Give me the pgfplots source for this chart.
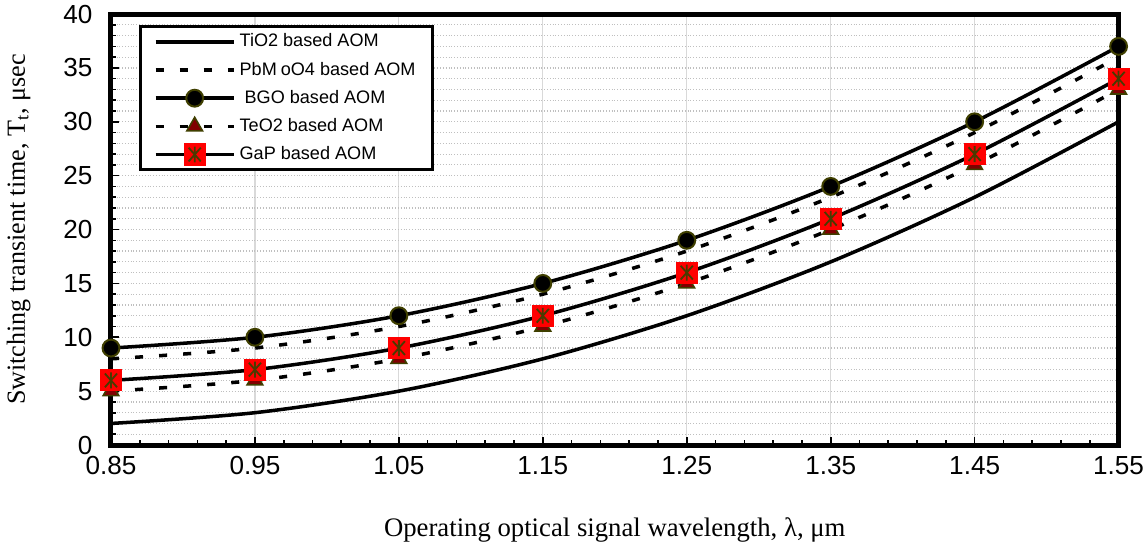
\documentclass[border=0pt]{standalone}
\usepackage{fontspec}
\setmainfont{Liberation Serif}
\newfontfamily\arialf{Liberation Sans}
\usepackage{pgfplots}
\pgfplotsset{compat=1.18}
\definecolor{olivedk}{HTML}{3F3F00}
\definecolor{tered}{HTML}{800000}
\definecolor{astc}{HTML}{4A3A00}

\pgfdeclareplotmark{sqast}{%
  \pgfpathrectangle{\pgfqpoint{-\pgfplotmarksize}{-\pgfplotmarksize}}{\pgfqpoint{2\pgfplotmarksize}{2\pgfplotmarksize}}%
  \pgfsetfillcolor{red}%
  \pgfusepathqfill
  \pgfsetstrokecolor{astc}%
  \pgfsetlinewidth{0.9pt}%
  \pgfpathmoveto{\pgfqpoint{0pt}{-0.72\pgfplotmarksize}}%
  \pgfpathlineto{\pgfqpoint{0pt}{0.72\pgfplotmarksize}}%
  \pgfpathmoveto{\pgfqpoint{-0.55\pgfplotmarksize}{-0.62\pgfplotmarksize}}%
  \pgfpathlineto{\pgfqpoint{0.55\pgfplotmarksize}{0.62\pgfplotmarksize}}%
  \pgfpathmoveto{\pgfqpoint{-0.55\pgfplotmarksize}{0.62\pgfplotmarksize}}%
  \pgfpathlineto{\pgfqpoint{0.55\pgfplotmarksize}{-0.62\pgfplotmarksize}}%
  \pgfusepathqstroke
}

\begin{document}
\begin{tikzpicture}
\begin{axis}[
  name=ax,
  scale only axis, width=501.5pt, height=214.5pt,
  xmin=0.85, xmax=1.55, ymin=0, ymax=40,
  xtick={0.85,0.95,1.05,1.15,1.25,1.35,1.45,1.55},
  ytick={0,5,10,15,20,25,30,35,40},
  minor y tick num=4, minor x tick num=4,
  xtick pos=bottom, ytick pos=left,
  xmajorgrids, ymajorgrids, yminorgrids,
  major x grid style={black!15, line width=0.6pt},
  major y grid style={black!25, densely dotted, line width=0.6pt},
  minor y grid style={black!25, densely dotted, line width=0.6pt},
  tick align=inside, major tick length=4pt, minor tick length=2.5pt,
  every tick/.style={black, line width=0.8pt},
  axis line style={line width=2.5pt},
  tick label style={font=\arialf\fontsize{13}{15}\selectfont, inner sep=0pt},
  /pgf/number format/assume math mode=true,
  xticklabel style={yshift=-5.5pt, /pgf/number format/fixed, /pgf/number format/fixed zerofill, /pgf/number format/precision=2},
  yticklabel style={xshift=-9pt},
  xlabel={Operating optical signal wavelength, λ, μm},
  ylabel={Switching transient time, T$_{\mathrm{t}}$, μsec},
  every axis x label/.style={at={(axis description cs:0.5,-0.198)}, anchor=center, font=\fontsize{13.3}{15}\selectfont},
  every axis y label/.style={at={(axis description cs:-0.0917,0.5)}, rotate=90, anchor=center, font=\fontsize{13}{15}\selectfont},
  clip=false,
  legend cell align=left,
  legend style={at={(0.028,0.974)}, anchor=north west, draw=black, line width=1.5pt,
    font=\arialf\fontsize{9}{10}\selectfont, inner xsep=6.5pt, inner ysep=1.5pt, row sep=2pt},
  legend image code/.code={\draw[#1, mark repeat=2, mark phase=2] plot coordinates {(0pt,0pt) (19.5pt,0pt) (39pt,0pt)};},
]
\addplot[black, line width=1.75pt, smooth, no marks] coordinates {
(0.85,2) (0.95,3) (1.05,5) (1.15,8) (1.25,12) (1.35,17) (1.45,23) (1.55,30)};
\addlegendentry{TiO2 based AOM}
\addplot[black, line width=1.75pt, smooth, no marks, dash pattern=on 4pt off 8pt] coordinates {
(0.85,8) (0.95,9) (1.05,11) (1.15,14) (1.25,18) (1.35,23) (1.45,29) (1.55,36)};
\addlegendentry{PbM\kern2ptoO4 based AOM}
\addplot[black, line width=1.75pt, smooth, mark=*, mark size=4.2pt,
  mark options={solid, fill=black, draw=olivedk, line width=1pt}] coordinates {
(0.85,9) (0.95,10) (1.05,12) (1.15,15) (1.25,19) (1.35,24) (1.45,30) (1.55,37)};
\addlegendentry{\ BGO based AOM}
\addplot[black, line width=1.75pt, smooth, dash pattern=on 4pt off 8pt, mark=triangle*, mark size=4.5pt,
  mark options={solid, fill=tered, draw=olivedk, line width=0.8pt}] coordinates {
(0.85,5) (0.95,6) (1.05,8) (1.15,11) (1.25,15) (1.35,20) (1.45,26) (1.55,33)};
\addlegendentry{TeO2 based AOM}
\addplot[black, line width=1.75pt, smooth, mark=sqast, mark size=5.5pt,
  mark options={solid}] coordinates {
(0.85,6) (0.95,7) (1.05,9) (1.15,12) (1.25,16) (1.35,21) (1.45,27) (1.55,34)};
\addlegendentry{GaP based AOM}
\end{axis}
\path ([yshift=7pt]ax.north);
\end{tikzpicture}
\end{document}
